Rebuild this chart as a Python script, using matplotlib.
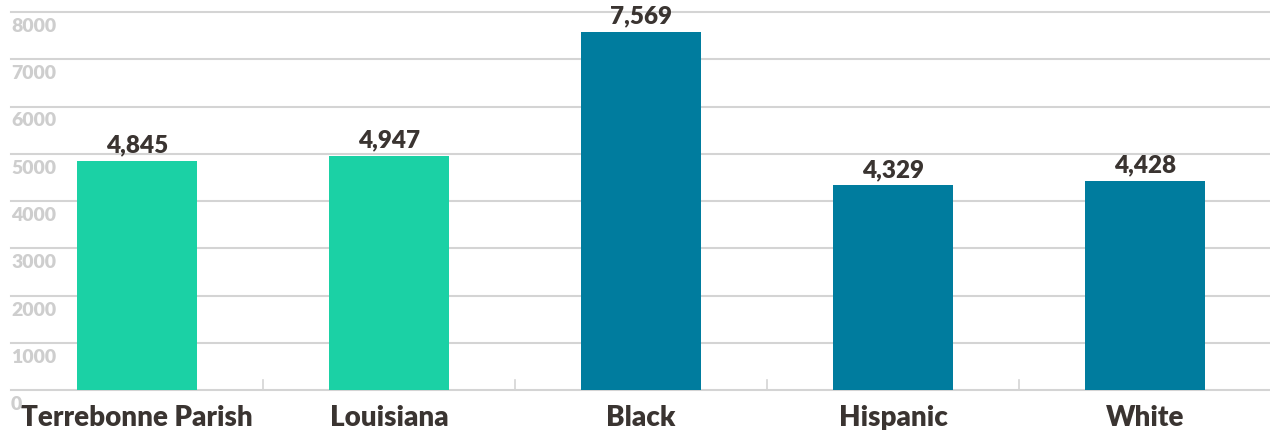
import matplotlib
matplotlib.use("Agg")
import matplotlib.pyplot as plt
import matplotlib.transforms as mtransforms

# Datos
categories = ["Terrebonne Parish", "Louisiana", "Black", "Hispanic", "White"]
values = [4845, 4947, 7569, 4329, 4428]
bar_colors = ["#1bd1a5", "#1bd1a5", "#007c9e", "#007c9e", "#007c9e"]
y_ticks = [0, 1000, 2000, 3000, 4000, 5000, 6000, 7000, 8000]

plt.rcParams["font.family"] = ["Lato", "DejaVu Sans"]

fig = plt.figure(figsize=(12.7, 4.31), dpi=100)
ax = fig.add_axes([11 / 1270, 40 / 431, 1260 / 1270, 378 / 431])

x = list(range(len(categories)))
ax.bar(x, values, width=0.476, color=bar_colors, zorder=3)

ax.set_xlim(-0.5, len(categories) - 0.5)
ax.set_ylim(0, 8000)

# Rejilla horizontal
for t in y_ticks:
    ax.axhline(t, color="#d4d4d4", lw=1.5, zorder=1, clip_on=False)

# Etiquetas del eje y colgando bajo cada línea
ylab_trans = mtransforms.offset_copy(
    mtransforms.blended_transform_factory(ax.transAxes, ax.transData),
    fig=fig, x=0, y=-5, units="dots")
for t in y_ticks:
    ax.text(0, t, str(t), transform=ylab_trans, ha="left", va="top",
            fontsize=14, fontweight="heavy", color="#cecece")

# Marcas entre categorías
for b in range(1, len(categories)):
    ax.plot([b - 0.5, b - 0.5], [0, 210], color="#d4d4d4", lw=1.2, zorder=1)

# Valores sobre las barras
for xi, v in zip(x, values):
    ax.annotate(f"{v:,}", (xi, v), xytext=(0, 4), textcoords="offset points",
                ha="center", va="bottom", fontsize=17.5, fontweight="heavy",
                color="#3a3431")

ax.set_xticks(x)
ax.set_xticklabels(categories, fontsize=20, fontweight="heavy", color="#3a3431")
ax.tick_params(axis="x", length=0, pad=10)
ax.set_yticks([])
for s in ax.spines.values():
    s.set_visible(False)

fig.savefig("out.png", dpi=100)
